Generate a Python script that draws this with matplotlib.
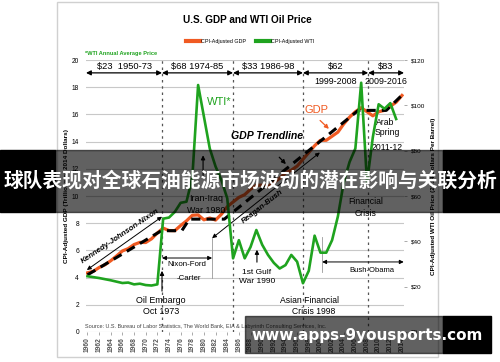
import matplotlib
matplotlib.use("Agg")
import matplotlib.pyplot as plt
from matplotlib import font_manager
from matplotlib.patches import Rectangle
from matplotlib.lines import Line2D

# ---- data ----
years = list(range(1960, 2015))
gdp = [4.35, 4.46, 4.74, 4.94, 5.24, 5.59, 5.96, 6.13, 6.43, 6.59,
       6.58, 6.85, 7.28, 7.64, 7.46, 7.45, 7.83, 8.17, 8.58, 8.61,
       8.25, 8.38, 8.23, 8.66, 9.21, 9.56, 9.90, 10.1, 10.5, 10.8,
       10.8, 10.7, 11.0, 11.3, 11.7, 11.9, 12.2, 12.7, 13.2, 13.7,
       14.1, 14.1, 14.4, 14.7, 15.3, 15.8, 16.2, 16.5, 16.2, 15.9,
       16.2, 16.3, 16.6, 16.9, 17.4]

wti_years = list(range(1960, 2014))
wti = [24.6, 24.2, 23.8, 23.3, 22.8, 22.2, 21.6, 21.8, 21.0, 21.3,
       20.7, 20.5, 21.0, 50.0, 50.5, 53.0, 57.0, 57.5, 68.0, 109.0,
       95.0, 81.0, 73.0, 67.0, 59.0, 32.5, 40.5, 32.5, 37.5, 45.0,
       38.5, 34.0, 30.5, 28.0, 29.5, 34.0, 31.0, 21.5, 27.0, 42.5,
       35.0, 35.0, 40.5, 51.0, 66.0, 75.0, 81.0, 110.0, 66.0, 86.0,
       100.5, 98.5, 101.0, 94.0]

trend_years = [1960, 1972.7, 1976.2, 1977.5, 1983.5, 2006.5, 2011.3, 2014.2]
trend_gdp = [4.2, 7.45, 7.45, 8.3, 8.3, 16.3, 16.3, 17.5]

# price eras: boundaries and labels
era_bounds = [1959.75, 1972.8, 1985.0, 1997.0, 2008.2, 2014.35]
era_top = ["$23  1950-73", "$68 1974-85", "$33 1986-98", "$62", "$83"]
era_bottom = ["", "", "", "1999-2008", "2009-2016"]

left_ticks = list(range(0, 21, 2))
right_ticks = list(range(0, 121, 20))
x_ticks = list(range(1960, 2015, 2))

ORANGE = "#f05a22"
GREEN = "#1fa31f"

# the original uses a narrow sans; fall back to Liberation Sans a bit smaller
try:
    font_manager.findfont("Liberation Sans Narrow", fallback_to_default=False)
    NARROW = ["Liberation Sans Narrow", "DejaVu Sans"]
    K = 1.0
except ValueError:
    NARROW = ["Liberation Sans", "DejaVu Sans"]
    K = 0.84
SANS = ["Liberation Sans", "DejaVu Sans"]

plt.rcParams["font.family"] = NARROW

fig = plt.figure(figsize=(5.0, 3.62), dpi=100)
ax = fig.add_axes([0.172, 0.083, 0.636, 0.751])
ax2 = ax.twinx()

# frame around the whole chart image
fig.patches.append(Rectangle((0.114, 0.014), 0.762, 0.98, transform=fig.transFigure,
                             fill=False, edgecolor="#d0d0d0", lw=1, zorder=-5))

ax.set_xlim(era_bounds[0], era_bounds[-1])
ax.set_ylim(0, 20)
ax2.set_ylim(0, 120)

for t in left_ticks:
    ax.axhline(t, color="#c8c8c8", lw=0.8, zorder=0)

ax.plot(years, gdp, color=ORANGE, lw=2.3, zorder=3)
ax.plot(trend_years, trend_gdp, color="black", lw=2.2, ls=(0, (3, 2)), zorder=4)
ax2.plot(wti_years, wti, color=GREEN, lw=1.9, zorder=3)

# era separators
for b in era_bounds[1:-1]:
    ax.axvline(b, color="#555555", lw=0.9, ls=(0, (2, 3)), zorder=1)

for i in range(len(era_top)):
    x0, x1 = era_bounds[i], era_bounds[i + 1]
    ax.annotate("", xy=(x0, 19.06), xytext=(x1, 19.06),
                arrowprops=dict(arrowstyle="<|-|>", color="black", lw=0.9,
                                mutation_scale=7, shrinkA=0, shrinkB=0))
    xm = (x0 + x1) / 2
    ax.text(xm, 19.5, era_top[i], ha="center", va="center", fontsize=8 * K)
    if era_bottom[i]:
        ax.text(xm, 18.45, era_bottom[i], ha="center", va="center", fontsize=7.6 * K)

# axes styling
for s in ["top", "right", "left", "bottom"]:
    ax.spines[s].set_visible(False)
    ax2.spines[s].set_visible(False)
ax.set_yticks(left_ticks)
ax.set_yticklabels([str(t) for t in left_ticks], fontsize=4.8, family=SANS)
ax.tick_params(axis="y", length=0, pad=5)
ax2.set_yticks(right_ticks)
ax2.set_yticklabels(["$" + str(t) for t in right_ticks], fontsize=4.6, family=SANS)
ax2.tick_params(axis="y", length=2, width=0.5, color="#888888", pad=3)
ax.set_xticks(x_ticks)
ax.set_xticklabels([str(t) for t in x_ticks], rotation=90, fontsize=4.8,
                   family=SANS, fontweight="bold", color="#555555")
ax.tick_params(axis="x", length=2, width=0.5, color="#888888", pad=2)

ax.set_ylabel("CPI-Adjusted GDP (Trillions of 2014 Dollars)", fontsize=4.6,
              fontweight="bold", labelpad=2, family=SANS)
ax2.set_ylabel("CPI-Adjusted WTI Oil Price (2014 Dollars Per Barrel)", fontsize=4.6,
               fontweight="bold", labelpad=4, family=SANS)

# annotations
ax.text(1980.5, 16.9, "WTI*", color=GREEN, fontsize=9.5 * K, ha="left", va="center")
ax.text(1999.3, 16.3, "GDP", color=ORANGE, fontsize=9.5 * K, ha="center", va="center")
ax.annotate("", xy=(2001.8, 14.8), xytext=(1999.6, 15.7),
            arrowprops=dict(arrowstyle="-|>", color=ORANGE, lw=0.9, mutation_scale=6))
ax.text(1990.9, 14.4, "GDP Trendline", fontsize=7.6, fontweight="bold", style="italic",
        ha="center", va="center", family=SANS)
ax.annotate("", xy=(1994.4, 12.2), xytext=(1992.6, 13.0),
            arrowprops=dict(arrowstyle="-|>", color="black", lw=0.9, mutation_scale=6))

ax.text(1980.4, 9.85, "Iran-Iraq", fontsize=7.6 * K, ha="center", va="center")
ax.text(1980.4, 8.97, "War 1980", fontsize=7.6 * K, ha="center", va="center")
ax.annotate("", xy=(1979.85, 13.2), xytext=(1979.85, 11.3),
            arrowprops=dict(arrowstyle="-|>", color="black", lw=0.8, mutation_scale=6))

ax.annotate("", xy=(1959.9, 4.56), xytext=(1972.8, 8.48),
            arrowprops=dict(arrowstyle="<|-|>", color="black", lw=0.7,
                            mutation_scale=6, shrinkA=0, shrinkB=0))
ax.text(1965.7, 7.05, "Kennedy-Johnson-Nixon", fontsize=6.8 * K, fontweight="bold",
        style="italic", rotation=34, ha="center", va="center")

ax.annotate("", xy=(1981.4, 6.9), xytext=(1999.9, 13.2),
            arrowprops=dict(arrowstyle="<|-|>", color="black", lw=0.7,
                            mutation_scale=6, shrinkA=0, shrinkB=0))
ax.text(1990.0, 9.2, "Reagan-Bush", fontsize=6.8 * K, fontweight="bold",
        style="italic", rotation=38, ha="center", va="center")

ax.annotate("", xy=(1972.8, 5.44), xytext=(1981.4, 5.44),
            arrowprops=dict(arrowstyle="<|-|>", color="black", lw=0.7,
                            mutation_scale=6, shrinkA=0, shrinkB=0))
ax.plot([1981.4, 1981.4], [4.0, 6.9], color="#999999", lw=0.6)
ax.text(1977.1, 4.93, "Nixon-Ford", fontsize=6.8 * K, ha="center", va="center")
ax.text(1977.35, 3.9, "-Carter", fontsize=6.8 * K, ha="center", va="center")

ax.text(1972.6, 2.3, "Oil Embargo", fontsize=7.6 * K, ha="center", va="center")
ax.text(1972.6, 1.47, "Oct 1973", fontsize=7.6 * K, ha="center", va="center")
ax.annotate("", xy=(1972.8, 4.7), xytext=(1972.8, 2.8),
            arrowprops=dict(arrowstyle="-|>", color="black", lw=0.8, mutation_scale=6))

ax.text(1989.1, 4.41, "1st Gulf", fontsize=7.2 * K, ha="center", va="center")
ax.text(1989.1, 3.68, "War 1990", fontsize=7.2 * K, ha="center", va="center")
ax.annotate("", xy=(1989.1, 6.25), xytext=(1989.1, 4.93),
            arrowprops=dict(arrowstyle="-|>", color="black", lw=0.8, mutation_scale=6))

ax.text(1998.05, 2.35, "Asian Financial", fontsize=7.4 * K, ha="center", va="center")
ax.text(1998.9, 1.54, "Crisis 1998", fontsize=7.4 * K, ha="center", va="center")

ax.annotate("", xy=(2000.3, 5.15), xytext=(2014.3, 5.15),
            arrowprops=dict(arrowstyle="<|-|>", color="black", lw=0.7,
                            mutation_scale=6, shrinkA=0, shrinkB=0))
ax.plot([2000.3, 2000.3], [4.4, 7.0], color="#999999", lw=0.6)
ax.text(2008.9, 4.49, "Bush-Obama", fontsize=6.6 * K, ha="center", va="center")

ax.text(2007.7, 9.63, "Financial", fontsize=7.4 * K, ha="center", va="center")
ax.text(2007.7, 8.75, "Crisis", fontsize=7.4 * K, ha="center", va="center")

ax.text(2011.1, 15.44, "Arab", fontsize=7.4 * K, ha="center", va="center")
ax.text(2011.5, 14.7, "Spring", fontsize=7.4 * K, ha="center", va="center")
ax.text(2011.5, 13.6, "2011-12", fontsize=7.4 * K, ha="center", va="center")

ax.text(1959.6, 0.37, "Source: U.S. Bureau of Labor Statistics, The World Bank, EIA & "
        "Labyrinth Consulting Services, Inc.", fontsize=4.7 * K, color="#444444",
        ha="left", va="center")

# title, legend, footnote
fig.text(0.495, 0.945, "U.S. GDP and WTI Oil Price", fontsize=8.6 * K, fontweight="bold",
         ha="center", va="center")
handles = [Line2D([], [], color=ORANGE, lw=3), Line2D([], [], color=GREEN, lw=3)]
fig.legend(handles, ["CPI-Adjusted GDP", "CPI-Adjusted WTI"], loc="center",
           bbox_to_anchor=(0.5, 0.885), ncol=2, frameon=False, fontsize=4.6 * K,
           handlelength=2.6, handletextpad=0.2, columnspacing=1.8)
fig.text(0.17, 0.853, "*WTI Annual Average Price", color=GREEN, fontsize=4.8 * K,
         fontweight="bold", ha="left", va="center")

# caption overlays
cap_y0, cap_h = 0.414, 0.172
fig.patches.append(Rectangle((0, cap_y0), 0.11, cap_h, transform=fig.transFigure,
                             color="black", zorder=10))
fig.patches.append(Rectangle((0.11, cap_y0), 0.776, cap_h, transform=fig.transFigure,
                             color="black", alpha=0.62, zorder=10))
fig.patches.append(Rectangle((0.886, cap_y0), 0.114, cap_h, transform=fig.transFigure,
                             color="black", zorder=10))
fig.text(0.5, 0.5, "球队表现对全球石油能源市场波动的潜在影响与关联分析", color="white",
         fontsize=14.2, fontweight="bold", ha="center", va="center", zorder=11,
         family=["Noto Sans CJK SC", "DejaVu Sans"])

url_y0, url_h = 0.025, 0.102
fig.patches.append(Rectangle((0.49, url_y0), 0.396, url_h, transform=fig.transFigure,
                             color="black", alpha=0.62, zorder=10))
fig.patches.append(Rectangle((0.886, url_y0), 0.096, url_h, transform=fig.transFigure,
                             color="black", zorder=10))
fig.text(0.735, 0.073, "www.apps-9yousports.com", color="white", fontsize=11,
         fontweight="bold", ha="center", va="center", zorder=11,
         family=["DejaVu Sans"])

fig.savefig("out.png", dpi=100)
